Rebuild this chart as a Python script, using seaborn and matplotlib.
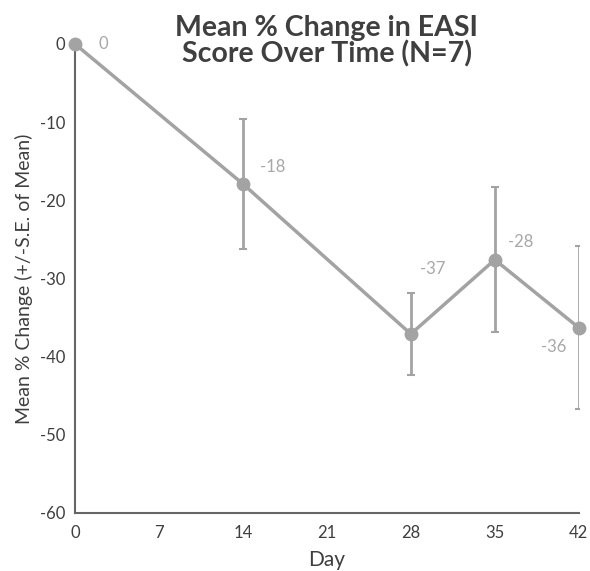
import matplotlib
matplotlib.use("Agg")
import matplotlib.pyplot as plt
import seaborn as sns
import pandas as pd

# values
days = [0, 14, 28, 35, 42]
mean_change = [0, -17.9, -37.1, -27.6, -36.3]
std_err = [0, 8.3, 5.2, 9.3, 10.4]
point_labels = ["0", "-18", "-37", "-28", "-36"]
label_offsets = [(28, 0), (30, 17), (22, 65), (26, 18), (-25, -19)]  # pixels
x_ticks = [0, 7, 14, 21, 28, 35, 42]
y_ticks = [0, -10, -20, -30, -40, -50, -60]

df = pd.DataFrame({"Day": days, "Change": mean_change, "SE": std_err})

sns.set_style("white")
plt.rcParams["font.family"] = ["Lato", "DejaVu Sans"]
plt.rcParams["axes.unicode_minus"] = False

line_grey = "#a3a3a3"
axis_grey = "#666666"
text_dark = "#3f3f3f"

fig = plt.figure(figsize=(5.9, 5.71), dpi=100)
ax = fig.add_axes([0.127, 0.1016, 0.854, 0.8214])

ax.errorbar(df["Day"][1:], df["Change"][1:], yerr=df["SE"][1:], fmt="none",
            ecolor=line_grey, elinewidth=2, capsize=3, capthick=1.5, zorder=2)
sns.lineplot(data=df, x="Day", y="Change", ax=ax, color=line_grey, linewidth=2.5,
             marker="o", markersize=10, markeredgewidth=0, zorder=3, clip_on=False)

for d, v, lab, off in zip(days, mean_change, point_labels, label_offsets):
    ax.annotate(lab, (d, v), xytext=off, textcoords="offset pixels",
                ha="center", va="center", fontsize=12, color="#a8a8a8")

ax.set_xlim(0, 42)
ax.set_ylim(-60, 0)
ax.set_xticks(x_ticks)
ax.set_yticks(y_ticks)
ax.tick_params(axis="both", length=5, width=1.2, color=axis_grey,
               labelsize=12, labelcolor=text_dark, direction="out")
ax.tick_params(axis="x", pad=4)
ax.tick_params(axis="y", pad=2)

for side in ["top", "right"]:
    ax.spines[side].set_visible(False)
for side in ["left", "bottom"]:
    ax.spines[side].set_color(axis_grey)
    ax.spines[side].set_linewidth(1.5)

ax.set_xlabel("Day", fontsize=15, color=text_dark, labelpad=6)
ax.set_ylabel("Mean % Change (+/-S.E. of Mean)", fontsize=14, color=text_dark, labelpad=5)
ax.set_title("Mean % Change in EASI\nScore Over Time (N=7)", fontsize=20.5,
             fontweight="bold", color=text_dark, linespacing=1.0, pad=0, y=0.96)

fig.savefig("out.png", dpi=100, facecolor="white")
